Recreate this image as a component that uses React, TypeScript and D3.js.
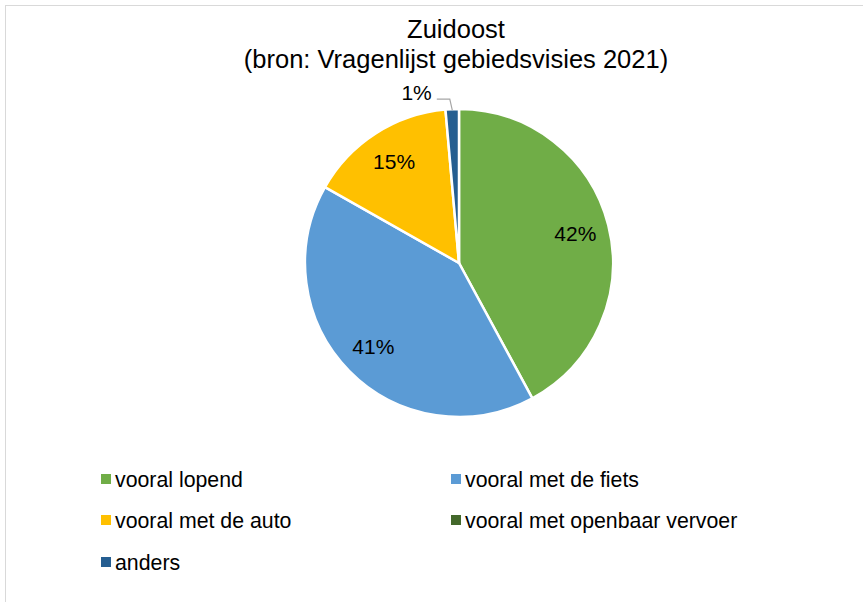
import React from 'react';
import * as d3 from 'd3';

const categories = ['vooral lopend', 'vooral met de fiets', 'vooral met de auto', 'vooral met openbaar vervoer', 'anders'];
const shares = [42.1, 41.1, 15.4, 0, 1.4];
const labels = ['42%', '41%', '15%', '', '1%'];
const colors = ['#70AD47', '#5B9BD5', '#FFC000', '#43682B', '#255E91'];

const W = 863, H = 602;
const cx = 459, cy = 263, R = 154;
const font = 'Liberation Sans, Arial, sans-serif';

const App = () => {
  const pie = d3.pie<number>().sort(null).value(d => d)(shares);
  const arc = d3.arc<d3.PieArcDatum<number>>().innerRadius(0).outerRadius(R);
  const labelArc = d3.arc<d3.PieArcDatum<number>>().innerRadius(120).outerRadius(120);

  // legend: two columns, rows top to bottom
  const legendX = [101, 451];
  const legendY = [480, 521, 563];

  return (
    <svg width={W} height={H} style={{position: 'absolute', left: 0, top: 0, background: '#fff'}}>
      <rect x={5.5} y={5.5} width={W + 20} height={H + 20} fill="#fff" stroke="#d9d9d9" strokeWidth={1} />
      <text x={456} y={38} textAnchor="middle" fontFamily={font} fontSize={25.5} fill="#000">Zuidoost</text>
      <text x={456} y={68} textAnchor="middle" fontFamily={font} fontSize={25.5} fill="#000">(bron: Vragenlijst gebiedsvisies 2021)</text>

      <g transform={`translate(${cx},${cy})`}>
        {pie.map((p, i) => p.value > 0 && (
          <path key={i} d={arc(p) || ''} fill={colors[i]} stroke="#fff" strokeWidth={2.5} strokeLinejoin="round" />
        ))}
        {pie.map((p, i) => {
          if (!labels[i] || p.value <= 0) return null;
          if (p.value < 3) {
            // small slice: outside label with leader line
            const mid = (p.startAngle + p.endAngle) / 2;
            const x0 = Math.sin(mid) * (R - 1), y0 = -Math.cos(mid) * (R - 1);
            const x1 = Math.sin(mid) * (R + 10) - 2, y1 = -Math.cos(mid) * (R + 10);
            const x2 = x1 - 13;
            return (
              <g key={i}>
                <polyline points={`${x0},${y0} ${x1},${y1} ${x2},${y1}`} fill="none" stroke="#a6a6a6" strokeWidth={1.2} />
                <text x={x2 - 5} y={y1 + 1} textAnchor="end" fontFamily={font} fontSize={21} fill="#000">{labels[i]}</text>
              </g>
            );
          }
          const [lx, ly] = labelArc.centroid(p);
          return (
            <text key={i} x={lx} y={ly} dy="0.35em" textAnchor="middle" fontFamily={font} fontSize={21} fill="#000">{labels[i]}</text>
          );
        })}
      </g>

      {categories.map((c, i) => {
        const x = legendX[i % 2];
        const y = legendY[Math.floor(i / 2)];
        return (
          <g key={c}>
            <rect x={x} y={y - 6} width={10} height={10} fill={colors[i]} />
            <text x={x + 14} y={y + 7} fontFamily={font} fontSize={21.3} fill="#000">{c}</text>
          </g>
        );
      })}
    </svg>
  );
};

export default App;
